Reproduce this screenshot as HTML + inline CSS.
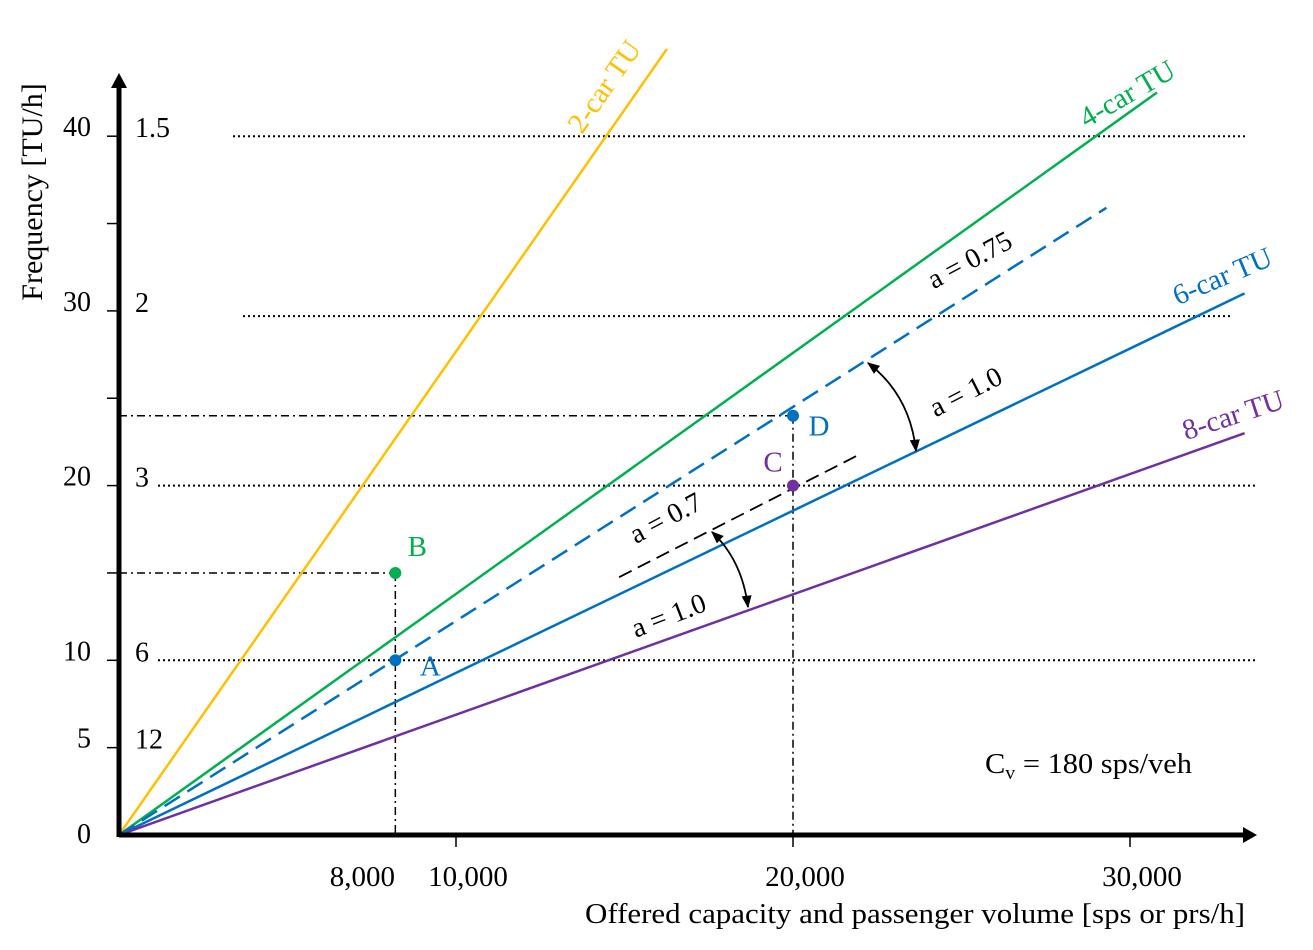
<!DOCTYPE html>
<html><head><meta charset="utf-8"><style>
html,body{margin:0;padding:0;background:#fff;}
svg{display:block;font-family:"Liberation Serif",serif;}
</style></head><body>
<svg id="chart" width="1313" height="950" viewBox="0 0 1313 950">
<defs>
<marker id="ah" viewBox="0 0 10 10" refX="9" refY="5" markerWidth="7" markerHeight="7" orient="auto-start-reverse"><path d="M0,1 L10,5 L0,9 z" fill="#000"/></marker>
</defs>
<g id="grid"></g>
<g id="marks"></g>
<g id="axes"></g>
<g id="labels"></g>
</svg>
<script>
// data (x in thousands of sps, y in TU/h)
const xTicks = [10, 20, 30];
const xTickLabels = ["10,000", "20,000", "30,000"];
const yTicks = [0, 5, 10, 15, 20, 25, 30, 35, 40];
const yTickLabels = ["0", "5", "10", "", "20", "", "30", "", "40"];
const headwayVals = [40, 30, 20, 10, 5];
const headwayLabels = ["1.5", "2", "3", "6", "12"];
const lineNames = ["2-car TU", "4-car TU", "6-car TU", "8-car TU"];
const lineEndX = [16.26, 30.8, 33.4, 33.4];
const lineEndY = [45.0, 42.5, 31.0, 23.0];
const lineColors = ["#FFC000", "#00B050", "#0070C0", "#7030A0"];
const dashedEnd = [29.3, 35.9];
const blackDashStart = [14.84, 14.76];
const blackDashEnd = [21.93, 21.74];
const pointNames = ["A", "B", "C", "D"];
const pointX = [8.2, 8.2, 20, 20];
const pointY = [10, 15, 20, 24];
const pointColors = ["#0070C0", "#00B050", "#7030A0", "#0070C0"];

const X0 = 119, Y0 = 835, KX = 33.7, KY = 17.47;
const sx = v => X0 + v * KX;
const sy = v => Y0 - v * KY;
const NS = "http://www.w3.org/2000/svg";
function mk(parent, tag, attrs, text) {
  const e = document.createElementNS(NS, tag);
  for (const k in attrs) e.setAttribute(k, attrs[k]);
  if (text !== undefined) e.textContent = text;
  document.getElementById(parent).appendChild(e);
  return e;
}
const dotStart = [233, 243, 158, 158];
const dotEnd = [1245, 1230, 1258, 1258];
const dotVals = [40, 29.7, 20, 10];
dotVals.forEach((v, i) => {
  const e = mk("grid", "line", {x1: dotStart[i], x2: dotEnd[i], y1: sy(v), y2: sy(v), stroke: "#000", "stroke-width": 2, "stroke-dasharray": "2 3"});
  
  
});
function dd(x1, y1, x2, y2, name) {
  const e = mk("grid", "line", {x1, y1, x2, y2, stroke: "#000", "stroke-width": 1.5, "stroke-dasharray": "8 4 2 4"});
  
  
}
dd(X0, sy(pointY[3]), sx(pointX[3]), sy(pointY[3]), 'ref-line-d-horizontal');
dd(X0, sy(pointY[1]), sx(pointX[1]), sy(pointY[1]), 'ref-line-b-horizontal');
dd(sx(pointX[1]), sy(pointY[1]), sx(pointX[1]), Y0, 'ref-line-8000-vertical');
dd(sx(pointX[3]), sy(pointY[3]), sx(pointX[3]), Y0, 'ref-line-20000-vertical');

lineNames.forEach((n, i) => {
  const e = mk("marks", "line", {x1: X0, y1: Y0, x2: sx(lineEndX[i]), y2: sy(lineEndY[i]), stroke: lineColors[i], "stroke-width": 2.5});
  
  
});
let e = mk("marks", "line", {x1: X0, y1: Y0, x2: sx(dashedEnd[0]), y2: sy(dashedEnd[1]), stroke: "#0070C0", "stroke-width": 2.5, "stroke-dasharray": "18 9"});


e = mk("marks", "line", {x1: sx(blackDashStart[0]), y1: sy(blackDashStart[1]), x2: sx(blackDashEnd[0]), y2: sy(blackDashEnd[1]), stroke: "#000", "stroke-width": 1.8, "stroke-dasharray": "14 7"});


pointNames.forEach((n, i) => {
  const c = mk("marks", "circle", {cx: sx(pointX[i]), cy: sy(pointY[i]), r: 6, fill: pointColors[i]});
  
  
});
const ptOff = [[35, 5], [22, -27], [-20, -24], [26, 10]];
pointNames.forEach((n, i) => {
  const t = mk("labels", "text", {x: sx(pointX[i]) + ptOff[i][0], y: sy(pointY[i]) + ptOff[i][1] + 10, fill: pointColors[i], "font-size": 29, "text-anchor": "middle"}, n);
  
  
});
e = mk("marks", "path", {d: "M868,363 Q910,395 916,451", fill: "none", stroke: "#000", "stroke-width": 1.8, "marker-start": "url(#ah)", "marker-end": "url(#ah)"});


e = mk("marks", "path", {d: "M712,532 Q742,560 748,607", fill: "none", stroke: "#000", "stroke-width": 1.8, "marker-start": "url(#ah)", "marker-end": "url(#ah)"});



e = mk("axes", "line", {x1: X0, y1: Y0, x2: 1246, y2: Y0, stroke: "#000", "stroke-width": 5});


e = mk("axes", "path", {d: "M1243,827 L1257,835 L1243,843 z", fill: "#000"});


e = mk("axes", "line", {x1: X0, y1: Y0 + 2, x2: X0, y2: 86, stroke: "#000", "stroke-width": 5});


e = mk("axes", "path", {d: "M111,88 L119,73 L127,88 z", fill: "#000"});


xTicks.forEach((v, i) => {
  const t = mk("axes", "line", {x1: sx(v), x2: sx(v), y1: Y0, y2: Y0 + 12, stroke: "#000", "stroke-width": 1.5});
  
  
  const l = mk("labels", "text", {x: sx(v) + 12, y: 886, "font-size": 29, "text-anchor": "middle"}, xTickLabels[i]);
  
  
});
e = mk("labels", "text", {x: 395, y: 886, "font-size": 29, "text-anchor": "end"}, "8,000");


yTicks.forEach((v, i) => {
  if (v > 0) {
    const t = mk("axes", "line", {x1: 107, x2: X0, y1: sy(v), y2: sy(v), stroke: "#000", "stroke-width": 1.5});
    
    
  }
  if (yTickLabels[i]) {
    const l = mk("labels", "text", {x: 91, y: sy(v) + (v === 0 ? 8 : 0), "font-size": 28, "text-anchor": "end"}, yTickLabels[i]);
    
    
  }
});
headwayVals.forEach((v, i) => {
  const l = mk("labels", "text", {x: 135, y: sy(v) + 1, "font-size": 28}, headwayLabels[i]);
  
  
});
e = mk("labels", "text", {x: 585, y: 923, "font-size": 29, textLength: 660, lengthAdjust: "spacingAndGlyphs"}, "Offered capacity and passenger  volume [sps or prs/h]");


e = mk("labels", "text", {x: 0, y: 0, "font-size": 30, "text-anchor": "middle", transform: "translate(42,192) rotate(-90)"}, "Frequency [TU/h]");


const lblPos = [[612, 92, -55], [1132, 102, -30], [1226, 285, -23], [1236, 424, -18]];
lineNames.forEach((n, i) => {
  const l = mk("labels", "text", {x: 0, y: 0, fill: lineColors[i], "font-size": 29, "text-anchor": "middle", transform: `translate(${lblPos[i][0]},${lblPos[i][1]}) rotate(${lblPos[i][2]})`}, n);
  
  
});
const aLbl = [["a = 0.75", 974, 268, -28], ["a = 1.0", 970, 400, -27], ["a = 0.7", 670, 526, -28], ["a = 1.0", 672, 624, -21]];
aLbl.forEach(a => {
  const l = mk("labels", "text", {x: 0, y: 0, "font-size": 28, "text-anchor": "middle", transform: `translate(${a[1]},${a[2]}) rotate(${a[3]})`}, a[0]);
  
  
});
const cv = mk("labels", "text", {x: 985, y: 773, "font-size": 29, textLength: 207, lengthAdjust: "spacingAndGlyphs"});


cv.innerHTML = 'C<tspan font-size="19" dy="6">v</tspan><tspan dy="-6"> = 180 sps/veh</tspan>';
</script>
</body></html>
